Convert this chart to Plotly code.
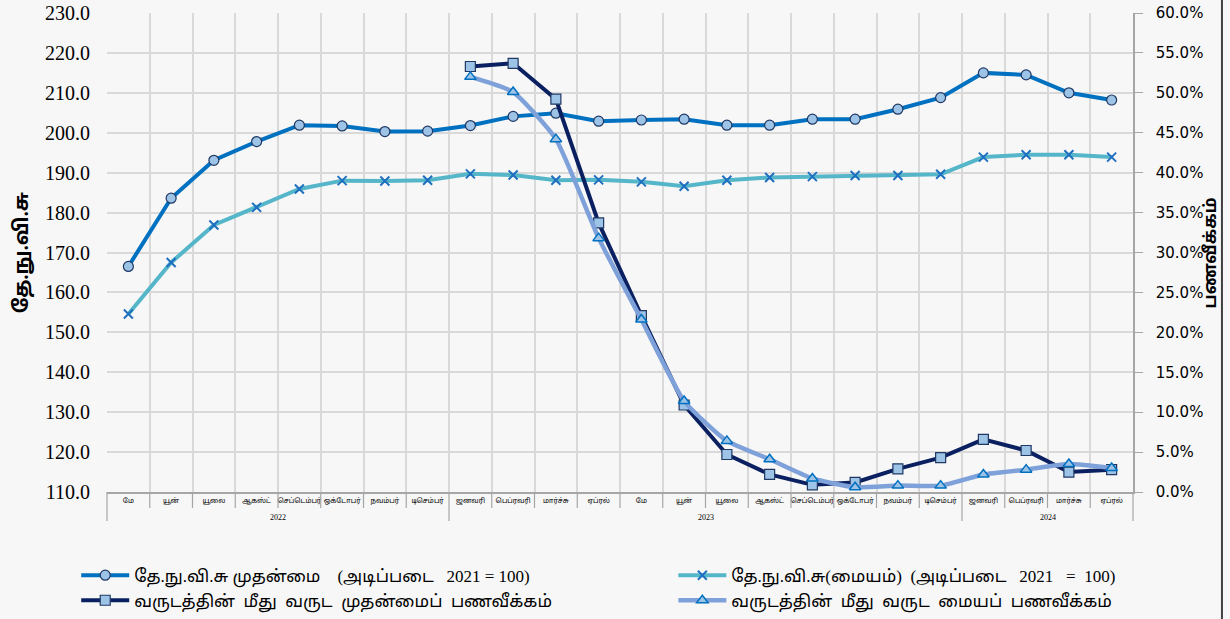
import plotly.graph_objects as go

years = ["2022", "2023", "2024"]
year_len = [8, 12, 4]
months = ["மே", "யூன்", "யூலை", "ஆகஸ்ட்", "செப்டெம்பர்", "ஒக்டோபர்", "நவம்பர்", "டிசெம்பர்",
          "ஜனவரி", "பெப்ரவரி", "மார்ச்சு", "ஏப்ரல்", "மே", "யூன்", "யூலை", "ஆகஸ்ட்",
          "செப்டெம்பர்", "ஒக்டோபர்", "நவம்பர்", "டிசெம்பர்",
          "ஜனவரி", "பெப்ரவரி", "மார்ச்சு", "ஏப்ரல்"]

ccpi_headline = [166.5, 183.6, 193.1, 197.8, 201.9, 201.7, 200.3, 200.4,
                 201.8, 204.1, 204.9, 202.9, 203.2, 203.4, 201.9, 201.9,
                 203.4, 203.4, 205.9, 208.8, 215.0, 214.5, 210.0, 208.2]
ccpi_core = [154.6, 167.5, 176.9, 181.3, 185.9, 188.0, 187.9, 188.1,
             189.7, 189.4, 188.1, 188.2, 187.7, 186.6, 188.1, 188.8,
             189.0, 189.3, 189.3, 189.6, 193.9, 194.5, 194.5, 193.9]
yoy_headline = [None] * 8 + [0.533, 0.537, 0.492, 0.337, 0.221, 0.109, 0.047, 0.022,
                             0.009, 0.012, 0.029, 0.043, 0.066, 0.052, 0.025, 0.028]
yoy_core = [None] * 8 + [0.520, 0.501, 0.442, 0.318, 0.216, 0.114, 0.064, 0.041,
                         0.017, 0.006, 0.008, 0.008, 0.022, 0.028, 0.035, 0.030]

names = ["தே.நு.வி.சு முதன்மை\u00a0\u00a0\u00a0 (அடிப்படை\u00a0\u00a0 2021 = 100)",
         "தே.நு.வி.சு(மையம்)\u00a0 (அடிப்படை\u00a0\u00a0 2021\u00a0\u00a0 =\u00a0 100)",
         "வருடத்தின்\u00a0 மீது\u00a0 வருட\u00a0 முதன்மைப்\u00a0 பணவீக்கம்",
         "வருடத்தின்\u00a0 மீது\u00a0 வருட\u00a0 மையப்\u00a0 பணவீக்கம்"]

n = len(months)
xs = list(range(n))
bg = "#F7F7F7"
serif = "Liberation Serif, Noto Sans Tamil, serif"

fig = go.Figure()
fig.add_trace(go.Scatter(
    x=xs, y=ccpi_headline, name=names[0], mode="lines+markers", legend="legend",
    line=dict(color="#0070C0", width=4),
    marker=dict(symbol="circle", size=10, color="#9DC3E6", line=dict(color="#1F3864", width=1.2))))
fig.add_trace(go.Scatter(
    x=xs, y=ccpi_core, name=names[1], mode="lines+markers", legend="legend2",
    line=dict(color="#55B6C9", width=4),
    marker=dict(symbol="x-thin", size=9, color="#1F6FC0", line=dict(color="#1F6FC0", width=2))))
fig.add_trace(go.Scatter(
    x=xs, y=yoy_headline, name=names[2], mode="lines+markers", yaxis="y2", legend="legend",
    line=dict(color="#0A2060", width=4),
    marker=dict(symbol="square", size=10, color="#9DC3E6", line=dict(color="#1F3864", width=1.2))))
fig.add_trace(go.Scatter(
    x=xs, y=yoy_core, name=names[3], mode="lines+markers", yaxis="y2", legend="legend2",
    line=dict(color="#7FA1DA", width=4.5, shape="spline", smoothing=0.5),
    marker=dict(symbol="triangle-up", size=10, color="#9DC3E6", line=dict(color="#0070C0", width=1.5))))

# category separators below the axis (month) and year dividers
PLOT_H = 479
annotations = []
shapes = []
year_bounds = {0}
start = 0
for yr, ln in zip(years, year_len):
    annotations.append(dict(text=yr, x=(start + ln / 2) / n, xref="paper", y=-25 / PLOT_H, yref="paper",
                            xanchor="center", yanchor="middle", showarrow=False,
                            font=dict(size=8, family=serif)))
    start += ln
    year_bounds.add(start)
for i in range(n + 1):
    depth = 29 if i in year_bounds else 16
    shapes.append(dict(type="line", xref="paper", yref="paper", x0=i / n, x1=i / n,
                       y0=0, y1=-depth / PLOT_H, line=dict(color="#A6A6A6", width=1.2)))

annotations += [
    dict(text="<b>தே.நு.வி.சு</b>", xref="paper", yref="paper", x=-0.083, y=0.5,
         xanchor="center", yanchor="middle", textangle=-90, showarrow=False,
         font=dict(size=20, family=serif)),
    dict(text="<b>பணவீக்கம்</b>", xref="paper", yref="paper", x=1.075, y=0.5,
         xanchor="center", yanchor="middle", textangle=-90, showarrow=False,
         font=dict(size=17, family="DejaVu Sans, Noto Sans Tamil, sans-serif")),
]
shapes.append(dict(type="line", xref="paper", yref="paper", x0=1.0867, x1=1.0867, y0=-0.3, y1=1.05,
                   line=dict(color="#404040", width=2)))

legend_common = dict(orientation="v", xanchor="left", yanchor="top", itemwidth=48,
                     font=dict(size=17, family=serif), bgcolor="rgba(0,0,0,0)",
                     tracegroupgap=0, traceorder="normal")

fig.update_layout(
    width=1230, height=619,
    margin=dict(l=107, r=97, t=13, b=127, autoexpand=False),
    paper_bgcolor=bg, plot_bgcolor=bg,
    font=dict(family=serif, color="#000000"),
    showlegend=True,
    legend=dict(x=-0.030, y=-0.137, **legend_common),
    legend2=dict(x=0.552, y=-0.137, **legend_common),
    xaxis=dict(range=[-0.5, n - 0.5], tickmode="array", tickvals=xs, ticktext=months,
               tickangle=0, showgrid=False, ticks="", showline=True, linecolor="#A6A6A6", linewidth=1.5,
               zeroline=False, tickfont=dict(size=7, family=serif), ticklabelstandoff=1,
               minor=dict(tickmode="array", tickvals=[i - 0.5 for i in range(n + 1)],
                          showgrid=True, gridcolor="#D9D9D9", gridwidth=1.5)),
    yaxis=dict(range=[110, 230], dtick=10, tickformat=".1f",
               showgrid=True, gridcolor="#D9D9D9", gridwidth=1.5,
               showline=False, zeroline=False, ticks="", ticklabelstandoff=16,
               ticklabeloverflow="allow",
               tickfont=dict(size=20, family="Liberation Serif, serif")),
    yaxis2=dict(range=[0, 0.6], dtick=0.05, tickformat=".1%", overlaying="y", side="right",
                showgrid=False, showline=True, linecolor="#A6A6A6", linewidth=1.5,
                ticks="outside", ticklen=8, tickcolor="#A6A6A6", zeroline=False,
                ticklabelstandoff=10, ticklabeloverflow="allow",
                tickfont=dict(size=15, family="DejaVu Sans, sans-serif")),
    annotations=annotations,
    shapes=shapes,
)

fig.write_html("out.html", config={"displayModeBar": False},
               post_script="document.body.style.margin='0';")
